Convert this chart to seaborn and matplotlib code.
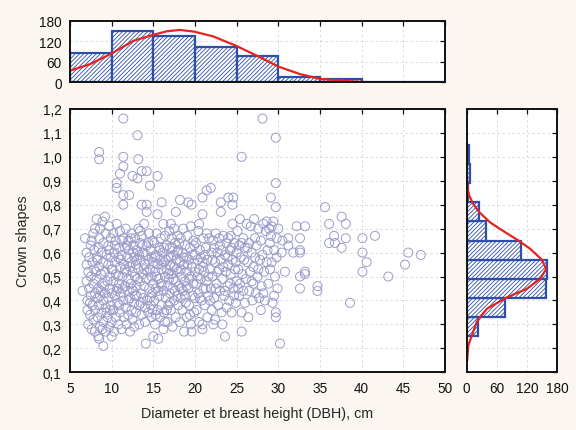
import numpy as np
import matplotlib
matplotlib.use("Agg")
import matplotlib.pyplot as plt
from matplotlib.ticker import FuncFormatter, MultipleLocator
import seaborn as sns

# --- data ---

# scatter: diameter at breast height (cm) and crown shape, row by row
dbh = [
    6.5, 6.8, 7.0, 7.0, 7.0, 7.1, 7.1, 7.2, 7.2, 7.3, 7.3, 7.4, 7.5, 7.5,
    7.5, 7.6, 7.7, 7.7, 7.8, 7.8, 7.8, 7.9, 7.9, 8.0, 8.0, 8.0, 8.0,
    8.2, 8.2, 8.2, 8.3, 8.3, 8.4, 8.4, 8.4, 8.5, 8.5, 8.5, 8.5, 8.5, 8.5,
    8.6, 8.6, 8.7, 8.7, 8.8, 8.8, 8.9, 8.9, 9.0, 9.0, 9.0, 9.0, 9.0,
    9.2, 9.2, 9.2, 9.3, 9.3, 9.3, 9.4, 9.5, 9.5, 9.6, 9.6, 9.6,
    9.7, 9.7, 9.8, 9.8, 9.8, 9.9, 9.9, 10.0, 10.0, 10.0, 10.0,
    7.4, 8.1, 9.1, 9.4, 8.6, 7.6, 9.9, 8.9, 9.7, 8.3,
    10.2, 10.2, 10.2, 10.3, 10.3, 10.4, 10.4, 10.5, 10.5, 10.5, 10.6, 10.6,
    10.6, 10.7, 10.7, 10.8, 10.8, 10.9, 10.9, 11.0, 11.0, 11.0, 11.0,
    11.1, 11.2, 11.2, 11.3, 11.4, 11.4, 11.4, 11.4, 11.4, 11.4, 11.4, 11.5,
    11.5, 11.6, 11.6, 11.7, 11.7, 11.8, 11.8, 11.9, 11.9, 12.0, 12.0, 12.0,
    12.1, 12.1, 12.2, 12.2, 12.3, 12.3, 12.4, 12.4, 12.5, 12.5, 12.5,
    12.6, 12.6, 12.7, 12.7, 12.8, 12.8, 12.9, 12.9, 13.0, 13.0, 13.0,
    13.1, 13.1, 13.2, 13.2, 13.2, 13.3, 13.3, 13.4, 13.4, 13.5, 13.5, 13.6,
    13.6, 13.6, 13.6, 13.7, 13.8, 13.8, 13.9, 13.9, 14.0, 14.0, 14.0,
    14.1, 14.2, 14.2, 14.2, 14.2, 14.2, 14.3, 14.4, 14.4, 14.5, 14.5,
    14.6, 14.6, 14.7, 14.7, 14.8, 14.8, 14.9, 14.9, 15.0, 15.0, 15.0,
    10.1, 10.4, 10.6, 10.9, 11.1, 11.3, 11.6, 11.8, 12.0, 12.2, 12.4, 12.6, 12.8, 13.0, 13.1,
    13.3, 13.5, 13.7, 13.9, 14.1, 14.3, 14.4, 14.6, 14.8, 14.9, 11.2, 12.3, 13.4, 10.8, 12.7,
    15.1, 15.1, 15.2, 15.2, 15.3, 15.3, 15.4, 15.5, 15.5, 15.5, 15.5,
    15.6, 15.6, 15.7, 15.7, 15.8, 15.8, 15.9, 15.9, 16.0, 16.0, 16.0,
    16.1, 16.2, 16.2, 16.3, 16.3, 16.4, 16.4, 16.5, 16.6, 16.6,
    16.7, 16.7, 16.8, 16.8, 16.9, 16.9, 17.0, 17.0, 17.0,
    17.1, 17.2, 17.2, 17.3, 17.3, 17.4, 17.5, 17.5, 17.6,
    17.7, 17.7, 17.7, 17.8, 17.9, 17.9, 18.0, 18.0, 18.0,
    18.1, 18.2, 18.2, 18.2, 18.3, 18.3, 18.4, 18.5, 18.5,
    18.6, 18.7, 18.7, 18.8, 18.8, 18.9, 19.0, 19.0, 19.0,
    19.1, 19.2, 19.2, 19.3, 19.3, 19.4, 19.5, 19.5, 19.6,
    19.6, 19.6, 19.7, 19.8, 19.8, 19.9, 20.0, 20.0, 20.0,
    15.2, 15.4, 15.6, 15.8, 16.0, 16.1, 16.3, 16.5, 16.6, 16.8, 17.0, 17.1,
    17.3, 17.4, 17.6, 17.8, 17.9, 18.1, 18.3, 18.4, 18.6, 18.8, 19.0, 19.1,
    19.3, 19.4, 19.7, 19.9, 15.3, 16.4, 17.5, 18.6, 19.5, 16.2, 17.1,
    20.1, 20.2, 20.2, 20.3, 20.4, 20.4, 20.5, 20.5, 20.6,
    20.7, 20.8, 20.9, 20.9, 20.9, 20.9, 20.9, 21.0, 21.0,
    21.1, 21.2, 21.3, 21.4, 21.4, 21.5, 21.5, 21.6, 21.7, 21.8, 21.9, 21.9, 22.0, 22.0,
    22.1, 22.2, 22.3, 22.4, 22.4, 22.5, 22.6, 22.7, 22.8, 22.9, 23.0, 23.0,
    23.1, 23.1, 23.1, 23.2, 23.3, 23.4, 23.5, 23.6, 23.6, 23.7, 23.8, 23.8, 23.9, 24.0, 24.0, 24.0,
    24.1, 24.2, 24.3, 24.4, 24.5, 24.5, 24.5, 24.6, 24.6, 24.7, 24.8, 24.9, 25.0, 25.0,
    20.3, 20.6, 20.7, 21.0, 21.2, 21.4, 21.6, 21.8, 22.1, 22.3, 22.5, 22.7, 22.9,
    23.2, 23.4, 23.6, 23.9, 24.2, 24.4, 24.7, 24.9, 20.5, 22.2, 23.3, 24.3, 21.3,
    25.1, 25.2, 25.3, 25.3, 25.4, 25.5, 25.6, 25.6, 25.6, 25.6, 25.7, 25.8, 25.9, 26.0, 26.0,
    26.1, 26.2, 26.3, 26.4, 26.5, 26.5, 26.6, 26.7, 26.8, 26.9, 27.0, 27.0,
    27.1, 27.2, 27.3, 27.4, 27.5, 27.6, 27.7, 27.8, 27.9, 28.0, 28.1, 28.1,
    28.2, 28.3, 28.4, 28.5, 28.6, 28.7, 28.8, 28.9, 29.0, 29.0,
    29.1, 29.1, 29.2, 29.3, 29.4, 29.5, 29.6, 29.7, 29.7, 29.7, 29.7, 29.7, 29.8, 29.8, 29.9, 30.0,
    25.2, 25.8, 26.3, 26.8, 27.2, 27.6, 28.2, 28.6, 29.2, 29.5, 25.4, 27.9,
    30.2, 30.4, 30.5, 30.8, 31.2, 31.2, 31.8, 32.2, 32.6, 32.6, 32.6, 32.6, 32.6, 33.2, 33.2, 33.2, 34.7, 34.7,
    35.6, 36.1, 36.1, 36.7, 36.8, 37.6, 37.6, 38.1, 38.1, 38.6, 40.1, 40.1, 40.6, 40.1, 41.6, 43.2, 45.2, 45.6, 47.1,
]
crown = [
    0.44, 0.66, 0.60, 0.55, 0.48, 0.40, 0.36, 0.52, 0.30, 0.58, 0.45, 0.34, 0.63, 0.50,
    0.42, 0.28, 0.56, 0.38, 0.68, 0.47, 0.32, 0.61, 0.53, 0.43, 0.27, 0.70, 0.36,
    0.74, 0.58, 0.49, 0.41, 0.33, 0.62, 0.45, 0.25, 1.02, 0.99, 0.66, 0.54, 0.38, 0.24,
    0.70, 0.29, 0.51, 0.44, 0.60, 0.35, 0.73, 0.47, 0.21, 0.64, 0.56, 0.40, 0.31,
    0.75, 0.52, 0.43, 0.68, 0.37, 0.27, 0.59, 0.48, 0.33, 0.63, 0.55, 0.41,
    0.71, 0.29, 0.50, 0.45, 0.36, 0.66, 0.58, 0.43, 0.31, 0.25, 0.53,
    0.39, 0.52, 0.46, 0.35, 0.42, 0.65, 0.38, 0.28, 0.61, 0.57,
    0.68, 0.48, 0.36, 0.60, 0.27, 0.56, 0.42, 0.65, 0.51, 0.33, 0.89, 0.87,
    0.72, 0.45, 0.39, 0.58, 0.30, 0.62, 0.47, 0.93, 0.54, 0.35, 0.69,
    0.43, 0.59, 0.28, 0.50, 1.16, 1.00, 0.96, 0.84, 0.80, 0.66, 0.40, 0.55,
    0.33, 0.62, 0.46, 0.70, 0.37, 0.52, 0.30, 0.58, 0.44, 0.65, 0.49, 0.34,
    0.84, 0.61, 0.41, 0.27, 0.56, 0.47, 0.68, 0.36, 0.92, 0.52, 0.32,
    0.63, 0.44, 0.58, 0.39, 0.66, 0.50, 0.35, 0.55, 0.61, 0.46, 0.42,
    1.09, 0.91, 0.99, 0.70, 0.53, 0.38, 0.30, 0.64, 0.48, 0.57, 0.43, 0.94,
    0.80, 0.67, 0.34, 0.51, 0.60, 0.41, 0.72, 0.46, 0.55, 0.37, 0.31,
    0.22, 0.94, 0.80, 0.77, 0.63, 0.49, 0.40, 0.57, 0.35, 0.68, 0.45,
    0.88, 0.53, 0.61, 0.38, 0.50, 0.33, 0.65, 0.43, 0.25, 0.56, 0.47,
    0.53, 0.63, 0.44, 0.38, 0.57, 0.45, 0.53, 0.63, 0.40, 0.54, 0.45, 0.60, 0.42, 0.57, 0.49,
    0.59, 0.39, 0.63, 0.53, 0.59, 0.52, 0.64, 0.41, 0.58, 0.36, 0.65, 0.66, 0.69, 0.50, 0.29,
    0.64, 0.40, 0.52, 0.30, 0.59, 0.45, 0.68, 0.92, 0.76, 0.55, 0.36,
    0.49, 0.24, 0.62, 0.42, 0.57, 0.33, 0.66, 0.47, 0.81, 0.53, 0.38,
    0.60, 0.44, 0.28, 0.56, 0.35, 0.67, 0.50, 0.41, 0.63, 0.53,
    0.31, 0.46, 0.58, 0.38, 0.69, 0.49, 0.55, 0.43, 0.62,
    0.36, 0.66, 0.51, 0.45, 0.29, 0.59, 0.40, 0.54, 0.64,
    0.77, 0.48, 0.33, 0.57, 0.42, 0.67, 0.52, 0.38, 0.61,
    0.46, 0.82, 0.56, 0.31, 0.66, 0.41, 0.50, 0.60, 0.36,
    0.44, 0.55, 0.27, 0.63, 0.48, 0.39, 0.58, 0.52, 0.33,
    0.67, 0.81, 0.45, 0.57, 0.38, 0.62, 0.50, 0.30, 0.80,
    0.27, 0.54, 0.42, 0.65, 0.47, 0.35, 0.59, 0.52, 0.41,
    0.58, 0.50, 0.44, 0.61, 0.46, 0.55, 0.62, 0.57, 0.36, 0.51, 0.39, 0.58,
    0.62, 0.49, 0.44, 0.53, 0.60, 0.64, 0.53, 0.45, 0.58, 0.42, 0.46, 0.55,
    0.49, 0.34, 0.59, 0.63, 0.34, 0.31, 0.70, 0.70, 0.71, 0.72, 0.72,
    0.64, 0.47, 0.36, 0.57, 0.69, 0.43, 0.53, 0.31, 0.61,
    0.49, 0.40, 0.83, 0.76, 0.30, 0.28, 0.56, 0.66, 0.45,
    0.52, 0.38, 0.62, 0.86, 0.48, 0.57, 0.33, 0.42, 0.66, 0.53, 0.87, 0.45, 0.60, 0.36,
    0.50, 0.65, 0.41, 0.56, 0.32, 0.68, 0.47, 0.60, 0.38, 0.53, 0.44, 0.63,
    0.81, 0.77, 0.57, 0.35, 0.49, 0.67, 0.42, 0.25, 0.59, 0.52, 0.64, 0.37, 0.46, 0.83, 0.55, 0.66,
    0.40, 0.61, 0.51, 0.35, 0.80, 0.72, 0.57, 0.83, 0.45, 0.64, 0.53, 0.39, 0.60, 0.48,
    0.50, 0.41, 0.58, 0.54, 0.59, 0.68, 0.50, 0.40, 0.57, 0.62, 0.45, 0.52, 0.66,
    0.61, 0.54, 0.44, 0.58, 0.47, 0.62, 0.42, 0.56, 0.72, 0.30, 0.30, 0.67, 0.45,
    0.69, 0.53, 0.42, 0.63, 0.47, 0.58, 1.00, 0.27, 0.35, 0.64, 0.51, 0.44, 0.57, 0.39, 0.62,
    0.49, 0.72, 0.56, 0.33, 0.64, 0.44, 0.52, 0.71, 0.60, 0.40, 0.54, 0.47,
    0.74, 0.58, 0.43, 0.63, 0.50, 0.70, 0.41, 0.57, 0.65, 0.46, 1.16, 0.59,
    0.72, 0.52, 0.40, 0.69, 0.56, 0.61, 0.47, 0.70, 0.53, 0.64,
    0.83, 0.67, 0.56, 0.39, 0.73, 0.61, 0.50, 1.08, 0.89, 0.79, 0.35, 0.33, 0.58, 0.66, 0.45, 0.70,
    0.45, 0.66, 0.62, 0.48, 0.66, 0.53, 0.43, 0.73, 0.71, 0.42, 0.74, 0.36,
    0.22, 0.60, 0.65, 0.52, 0.66, 0.63, 0.60, 0.71, 0.66, 0.61, 0.60, 0.50, 0.45, 0.71, 0.52, 0.51, 0.46, 0.44,
    0.79, 0.72, 0.64, 0.67, 0.64, 0.75, 0.62, 0.72, 0.66, 0.39, 0.66, 0.60, 0.56, 0.52, 0.67, 0.50, 0.55, 0.60, 0.59,
]

# top histogram (DBH classes)
dbh_edges = [5, 10, 15, 20, 25, 30, 35, 40, 45, 50]
dbh_counts = [87, 150, 134, 102, 78, 15, 10, 1, 1]
# fitted curve over the top histogram
dbh_curve_x = [5.0, 7.4, 9.9, 12.6, 14.9, 16.6, 18.2, 19.9, 22.2, 24.9,
               27.4, 30.0, 32.6, 35.0, 37.4, 40.0, 42.2]
dbh_curve_y = [34, 53, 83, 121, 138, 149, 153, 148, 134, 107,
               78, 46, 24, 10, 5, 1, 0]

# right histogram (crown shape classes)
crown_edges = [0.25, 0.33, 0.41, 0.49, 0.57, 0.65, 0.73, 0.81, 0.89, 0.97, 1.05]
crown_counts = [23, 77, 158, 160, 107, 38, 25, 2, 6, 4]
# fitted curve over the right histogram
crown_curve_y = [0.148, 0.21, 0.253, 0.31, 0.365, 0.413, 0.448, 0.49, 0.532,
                 0.571, 0.616, 0.65, 0.699, 0.727, 0.769, 0.803, 0.838, 0.866, 0.908]
crown_curve_x = [1, 3, 10, 20, 40, 80, 119, 146, 158,
                 149, 126, 103, 66, 46, 25, 13, 5, 2, 1]

# --- style ---
BG = "#FBF7F0"
BAR_EDGE = "#2E4FA8"
CURVE = "#E52421"
DOT = "#9C9CCB"
GRID = dict(color="#D6D6D6", linestyle=(0, (3, 3)), linewidth=0.6)

sns.set_style("white")
plt.rcParams["font.family"] = ["Liberation Sans", "DejaVu Sans"]
plt.rcParams["hatch.linewidth"] = 0.6
plt.rcParams["axes.linewidth"] = 1.4


def comma(v, pos):
    return f"{v:.1f}".replace(".", ",")


def frame(ax):
    for s in ax.spines.values():
        s.set_visible(True)
        s.set_color("#111111")
        s.set_linewidth(1.4)
    ax.tick_params(direction="in", length=3.5, width=0.9, top=True, right=True,
                   labelsize=9.8, colors="#111111")
    ax.tick_params(axis="x", pad=6.5)
    ax.tick_params(axis="y", pad=6)
    ax.set_axisbelow(True)


fig = plt.figure(figsize=(5.76, 4.31), dpi=100, facecolor=BG)
ax_main = fig.add_axes([0.1215, 0.1339, 0.651, 0.611])
ax_top = fig.add_axes([0.1215, 0.8067, 0.651, 0.143])
ax_right = fig.add_axes([0.8102, 0.1339, 0.1573, 0.611])

# --- scatter ---
sns.scatterplot(x=dbh, y=crown, ax=ax_main, marker="o", s=42,
                facecolor="none", edgecolor=DOT, linewidth=0.7)
ax_main.set_xlim(5, 50)
ax_main.set_ylim(0.1, 1.2)
ax_main.xaxis.set_major_locator(MultipleLocator(5))
ax_main.xaxis.set_minor_locator(MultipleLocator(1))
ax_main.yaxis.set_major_locator(MultipleLocator(0.1))
ax_main.yaxis.set_major_formatter(FuncFormatter(comma))
ax_main.grid(True, **GRID)
frame(ax_main)
ax_main.tick_params(axis="x", which="minor", direction="in", length=2, top=False)
ax_main.set_xlabel("Diameter et breast height (DBH), cm", fontsize=10.3, labelpad=8)
ax_main.set_ylabel("Crown shapes", fontsize=10.3, labelpad=9)

# --- top histogram ---
dbh_mid = [(a + b) / 2 for a, b in zip(dbh_edges[:-1], dbh_edges[1:])]
sns.histplot(x=dbh_mid, weights=dbh_counts, bins=dbh_edges, ax=ax_top,
             color="white", edgecolor=BAR_EDGE, linewidth=1.6, alpha=1,
             hatch="////////")
sns.lineplot(x=dbh_curve_x, y=dbh_curve_y, ax=ax_top, color=CURVE, lw=1.6)
ax_top.set_xlim(5, 50)
ax_top.set_ylim(0, 180)
ax_top.xaxis.set_major_locator(MultipleLocator(5))
ax_top.yaxis.set_major_locator(MultipleLocator(60))
ax_top.grid(True, **GRID)
frame(ax_top)
ax_top.tick_params(labelbottom=False)
ax_top.set_xlabel("")
ax_top.set_ylabel("")

# --- right histogram ---
crown_mid = [(a + b) / 2 for a, b in zip(crown_edges[:-1], crown_edges[1:])]
sns.histplot(y=crown_mid, weights=crown_counts, bins=crown_edges, ax=ax_right,
             color="white", edgecolor=BAR_EDGE, linewidth=1.6, alpha=1,
             hatch="////////")
sns.lineplot(x=crown_curve_x, y=crown_curve_y, ax=ax_right, color=CURVE, lw=1.6,
             sort=False, estimator=None)
ax_right.set_xlim(0, 180)
ax_right.set_ylim(0.1, 1.2)
ax_right.xaxis.set_major_locator(MultipleLocator(60))
ax_right.yaxis.set_major_locator(MultipleLocator(0.1))
ax_right.grid(True, **GRID)
frame(ax_right)
ax_right.tick_params(labelleft=False)
ax_right.set_xlabel("")
ax_right.set_ylabel("")

fig.savefig("out.png", dpi=100, facecolor=BG)
